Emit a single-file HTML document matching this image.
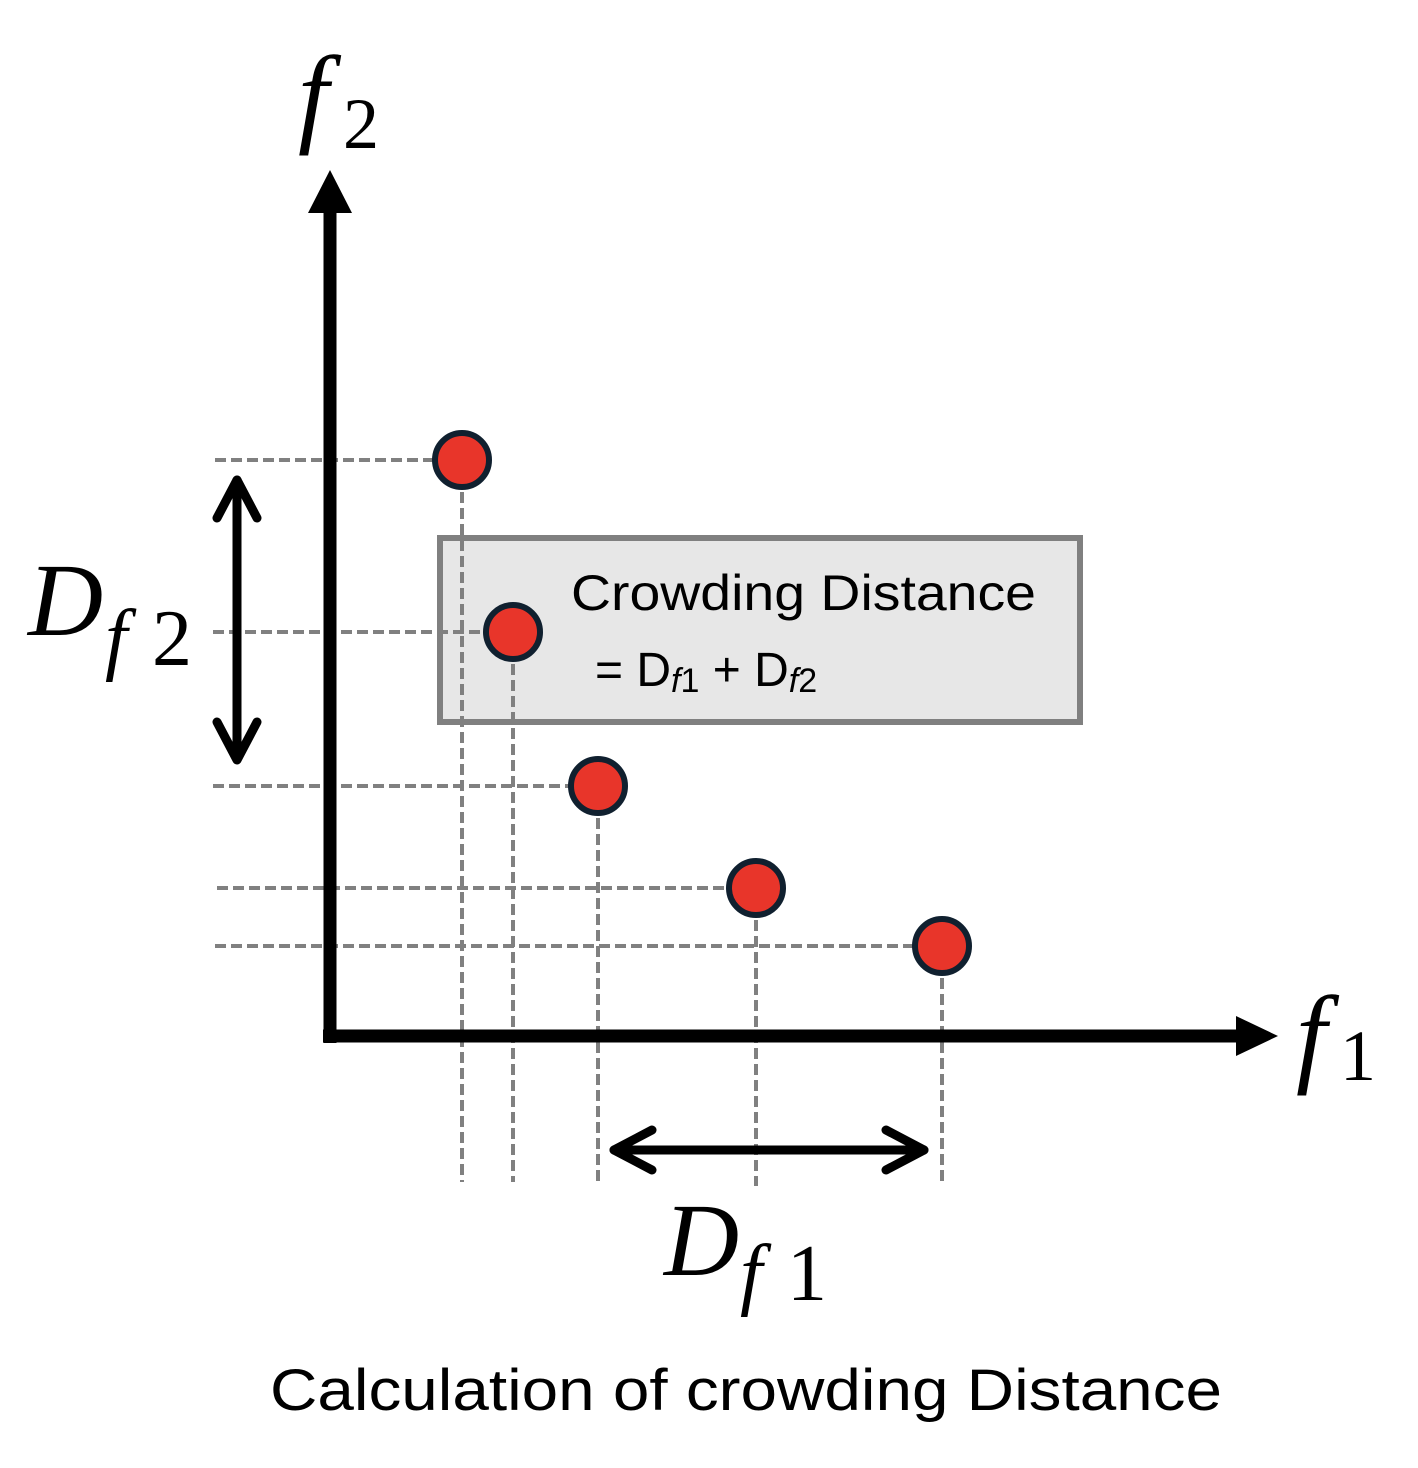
<!DOCTYPE html>
<html><head><meta charset="utf-8"><style>
html,body{margin:0;padding:0;background:#fff;}
svg{display:block;}
</style></head><body>
<svg width="1418" height="1468" viewBox="0 0 1418 1468" xmlns="http://www.w3.org/2000/svg">
<rect x="440" y="538" width="640" height="184" fill="#e7e7e7" stroke="#808080" stroke-width="6"/>
<g stroke="#808080" stroke-width="4" stroke-dasharray="11,5" fill="none">
<line x1="215" y1="460" x2="462" y2="460"/>
<line x1="213" y1="632" x2="513" y2="632"/>
<line x1="213" y1="786" x2="598" y2="786"/>
<line x1="217" y1="888" x2="756" y2="888"/>
<line x1="215" y1="946" x2="942" y2="946"/>
<line x1="462" y1="460" x2="462" y2="1182"/>
<line x1="513" y1="632" x2="513" y2="1182"/>
<line x1="598" y1="786" x2="598" y2="1186"/>
<line x1="756" y1="888" x2="756" y2="1186"/>
<line x1="942" y1="946" x2="942" y2="1186"/>
</g>
<line x1="330" y1="1043" x2="330" y2="205" stroke="#000" stroke-width="13"/>
<polygon points="308,213 352,213 330,170" fill="#000"/>
<line x1="323" y1="1036" x2="1240" y2="1036" stroke="#000" stroke-width="13"/>
<polygon points="1236,1016 1236,1056 1278,1036" fill="#000"/>
<g stroke="#000" stroke-width="9" stroke-linecap="round" stroke-linejoin="round" fill="none">
<line x1="237" y1="480" x2="237" y2="758"/>
<polyline points="217,518 237,480 257,518"/>
<polyline points="217,722 237,760 257,722"/>
<line x1="614" y1="1150" x2="924" y2="1150"/>
<polyline points="652,1130 614,1150 652,1170"/>
<polyline points="886,1130 924,1150 886,1170"/>
</g>
<g fill="#e8352a" stroke="#10202f" stroke-width="6">
<circle cx="462" cy="460" r="27"/>
<circle cx="513" cy="632" r="27"/>
<circle cx="598" cy="786" r="27"/>
<circle cx="756" cy="888" r="27"/>
<circle cx="942" cy="946" r="27"/>
</g>
<g font-family="Liberation Sans, sans-serif" fill="#000">
<text x="571" y="610" font-size="50" textLength="465" lengthAdjust="spacingAndGlyphs">Crowding Distance</text>
<text x="595" y="686" font-size="48">= D<tspan font-size="34" font-style="italic" dy="6">f</tspan><tspan font-size="34">1</tspan><tspan dy="-6"> + D</tspan><tspan font-size="34" font-style="italic" dy="6">f</tspan><tspan font-size="34">2</tspan></text>
<text x="270" y="1410" font-size="58" textLength="952" lengthAdjust="spacingAndGlyphs">Calculation of crowding Distance</text>
</g>
<g font-family="Liberation Serif, serif" fill="#000">
<text x="298" y="132" font-size="110" font-style="italic">f</text>
<text x="343" y="148" font-size="72">2</text>
<text x="1296" y="1072" font-size="110" font-style="italic">f</text>
<text x="1340" y="1080" font-size="72">1</text>
<text x="28" y="635" font-size="104" font-style="italic">D</text>
<text x="105" y="665" font-size="80" font-style="italic">f</text>
<text x="152" y="665" font-size="80">2</text>
<text x="664" y="1275" font-size="104" font-style="italic">D</text>
<text x="740" y="1300" font-size="80" font-style="italic">f</text>
<text x="787" y="1300" font-size="80">1</text>
</g>
</svg>
</body></html>
